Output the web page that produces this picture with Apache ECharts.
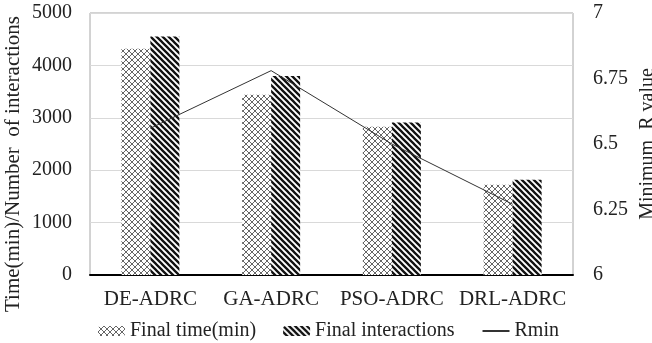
<!DOCTYPE html>
<html>
<head>
<meta charset="utf-8">
<script src="https://cdn.jsdelivr.net/npm/echarts@6/dist/echarts.min.js"></script>
<style>html,body{margin:0;padding:0;background:#fff}#c{width:652px;height:343px}</style>
</head>
<body>
<div id="c"></div>
<script>
var categories = ['DE-ADRC', 'GA-ADRC', 'PSO-ADRC', 'DRL-ADRC'];
var finalTime = [4320, 3440, 2830, 1720];
var finalInteractions = [4550, 3800, 2910, 1820];
var rmin = [6.56, 6.78, 6.5, 6.27];
var leftTicks = [0, 5000, 1000];
var rightTicks = [6, 7, 0.25];

function crossPattern() {
  var c = document.createElement('canvas');
  c.width = 6; c.height = 6;
  var g = c.getContext('2d');
  g.fillStyle = '#fff'; g.fillRect(0, 0, 6, 6);
  g.strokeStyle = '#555'; g.lineWidth = 0.9;
  g.beginPath();
  g.moveTo(0, 0); g.lineTo(6, 6);
  g.moveTo(6, 0); g.lineTo(0, 6);
  g.stroke();
  return c;
}
function stripePattern() {
  var c = document.createElement('canvas');
  c.width = 6; c.height = 6;
  var g = c.getContext('2d');
  g.fillStyle = '#fff'; g.fillRect(0, 0, 6, 6);
  g.strokeStyle = '#111'; g.lineWidth = 2.3;
  g.beginPath();
  g.moveTo(-6, -6); g.lineTo(12, 12);
  g.moveTo(-6, 0); g.lineTo(6, 12);
  g.moveTo(0, -6); g.lineTo(12, 6);
  g.stroke();
  return c;
}

var font = 'Liberation Serif';
var chart = echarts.init(document.getElementById('c'), null, {renderer: 'canvas'});
chart.setOption({
  animation: false,
  backgroundColor: '#fff',
  textStyle: {fontFamily: font},
  grid: {left: 90, right: 79, top: 13, bottom: 68, show: true, borderColor: '#a6a6a6', borderWidth: 1,
         containLabel: false, outerBoundsMode: 'none'},
  legend: {
    left: 93, top: 316, itemWidth: 27, itemHeight: 10, itemGap: 27,
    textStyle: {fontFamily: font, fontSize: 20, color: '#222'},
    data: [
      {name: 'Final time(min)'},
      {name: 'Final interactions'},
      {name: 'Rmin', itemStyle: {opacity: 0}}
    ]
  },
  xAxis: {
    type: 'category', data: categories,
    axisLine: {lineStyle: {color: '#000', width: 2}},
    axisTick: {show: false},
    axisLabel: {fontFamily: font, fontSize: 21, color: '#222', margin: 14, interval: 0}
  },
  yAxis: [{
    type: 'value', min: leftTicks[0], max: leftTicks[1], interval: leftTicks[2],
    name: 'Time(min)/Number  of interactions', nameLocation: 'middle', nameGap: 66, nameRotate: 90,
    nameMoveOverlap: false,
    nameTextStyle: {fontFamily: font, fontSize: 21, color: '#222', padding: [0, 40, 0, 0]},
    axisLine: {show: false}, axisTick: {show: false},
    axisLabel: {fontFamily: font, fontSize: 20, color: '#222', margin: 18, formatter: function (v) { return String(v); }},
    splitLine: {lineStyle: {color: '#d9d9d9', width: 1}}
  }, {
    type: 'value', min: rightTicks[0], max: rightTicks[1], interval: rightTicks[2], position: 'right',
    name: 'Minimum  R value', nameLocation: 'middle', nameGap: 65, nameRotate: 90,
    nameMoveOverlap: false,
    nameTextStyle: {fontFamily: font, fontSize: 20, color: '#222'},
    axisLine: {show: false}, axisTick: {show: false},
    axisLabel: {fontFamily: font, fontSize: 20, color: '#222', margin: 20, formatter: function (v) { return String(v); }},
    splitLine: {show: false}
  }],
  series: [{
    name: 'Final time(min)', type: 'bar', data: finalTime, barWidth: 29, barGap: '0%',
    itemStyle: {color: {image: crossPattern(), repeat: 'repeat'}}
  }, {
    name: 'Final interactions', type: 'bar', data: finalInteractions, barWidth: 29, barGap: '0%',
    itemStyle: {color: {image: stripePattern(), repeat: 'repeat'}}
  }, {
    name: 'Rmin', type: 'line', yAxisIndex: 1, data: rmin, symbol: 'none',
    lineStyle: {color: '#333', width: 1}, itemStyle: {color: '#333'}
  }]
});
</script>
</body>
</html>
